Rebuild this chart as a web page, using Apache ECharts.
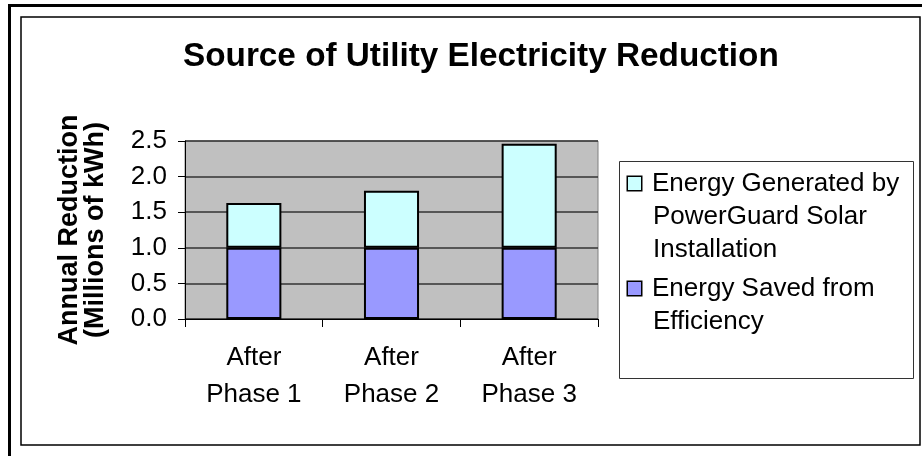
<!DOCTYPE html>
<html>
<head>
<meta charset="utf-8">
<script src="https://cdn.jsdelivr.net/npm/echarts@6/dist/echarts.min.js"></script>
<style>
html,body{margin:0;padding:0;background:#fff;}
#chart{width:922px;height:456px;}
</style>
</head>
<body>
<div id="chart"></div>
<script>
var categories = ['After\nPhase 1', 'After\nPhase 2', 'After\nPhase 3'];
var savedName = 'Energy Saved from Efficiency';
var generatedName = 'Energy Generated by PowerGuard Solar Installation';
var savedValues = [1.0, 1.0, 1.0];
var generatedValues = [0.63, 0.80, 1.46];
var legendLines = {};
legendLines[generatedName] = ['Energy Generated by', 'PowerGuard Solar', 'Installation'];
legendLines[savedName] = ['Energy Saved from', 'Efficiency'];
var titleText = 'Source of Utility Electricity Reduction';
var yAxisName = 'Annual Reduction\n(Millions of kWh)';

var FONT = '"Liberation Sans", Arial, sans-serif';
var chart = echarts.init(document.getElementById('chart'), null, {renderer: 'canvas'});

var option = {
  animation: false,
  backgroundColor: '#ffffff',
  textStyle: {fontFamily: FONT, color: '#000'},
  title: {
    text: titleText,
    left: 178,
    top: 35,
    textStyle: {fontFamily: FONT, fontSize: 33.3, fontWeight: 'bold', color: '#000'}
  },
  graphic: [
    {type: 'polyline', shape: {points: [[9.5, 456], [9.5, 5.5], [922, 5.5]]}, style: {stroke: '#000', lineWidth: 3, fill: null}, z: 10},
    {type: 'rect', shape: {x: 21, y: 17, width: 899, height: 428}, style: {stroke: '#000', lineWidth: 1.5, fill: null}, z: 10},
    {type: 'rect', shape: {x: 619.5, y: 161.5, width: 294, height: 217}, style: {stroke: '#333', lineWidth: 1, fill: '#fff'}, z: 0}
  ],
  legend: {
    data: [generatedName, savedName],
    orient: 'vertical',
    left: 623,
    top: 167,
    padding: 0,
    itemGap: 6,
    itemWidth: 0,
    itemHeight: 0,
    itemStyle: {borderWidth: 0, opacity: 0},
    selectedMode: false,
    formatter: function (name) {
      var lines = legendLines[name];
      var sq = name === generatedName ? 'sqA' : 'sqB';
      var out = '{' + sq + '|}{gap|}' + lines[0];
      for (var i = 1; i < lines.length; i++) {
        out += '\n{ind|}' + lines[i];
      }
      return out;
    },
    textStyle: {
      fontFamily: FONT, fontSize: 26, lineHeight: 33, color: '#000',
      rich: {
        sqA: {width: 13, height: 13, backgroundColor: '#CCFFFF', borderColor: '#000', borderWidth: 1.5, lineHeight: 33},
        sqB: {width: 13, height: 13, backgroundColor: '#9999FF', borderColor: '#000', borderWidth: 1.5, lineHeight: 33},
        gap: {width: 11, lineHeight: 33},
        ind: {width: 25, lineHeight: 33}
      }
    }
  },
  grid: {
    left: 185, right: 324, top: 141, bottom: 137,
    show: true, backgroundColor: '#C0C0C0', borderColor: '#808080', borderWidth: 1,
    containLabel: false
  },
  xAxis: {
    type: 'category',
    data: categories,
    axisLine: {lineStyle: {color: '#000', width: 1}},
    axisTick: {show: true, length: 8, lineStyle: {color: '#000'}},
    axisLabel: {fontFamily: FONT, fontSize: 26, color: '#000', lineHeight: 37, margin: 20, interval: 0}
  },
  yAxis: {
    type: 'value',
    min: 0, max: 2.5, interval: 0.5,
    name: yAxisName,
    nameLocation: 'middle',
    nameRotate: 90,
    nameGap: 76,
    nameTextStyle: {fontFamily: FONT, fontSize: 27, fontWeight: 'bold', color: '#000', lineHeight: 26},
    axisLine: {show: true, lineStyle: {color: '#000', width: 1}},
    axisTick: {show: true, length: 7, lineStyle: {color: '#000'}},
    axisLabel: {fontFamily: FONT, fontSize: 26, color: '#000', margin: 18,
      formatter: function (v) { return v.toFixed(1); }},
    splitLine: {show: true, lineStyle: {color: '#333', width: 1.5}}
  },
  series: [
    {
      name: savedName, type: 'bar', stack: 'total', data: savedValues, barWidth: '40%',
      itemStyle: {color: '#9999FF', borderColor: '#000', borderWidth: 2}
    },
    {
      name: generatedName, type: 'bar', stack: 'total', data: generatedValues, barWidth: '40%',
      itemStyle: {color: '#CCFFFF', borderColor: '#000', borderWidth: 2}
    }
  ]
};
chart.setOption(option);
</script>
</body>
</html>
